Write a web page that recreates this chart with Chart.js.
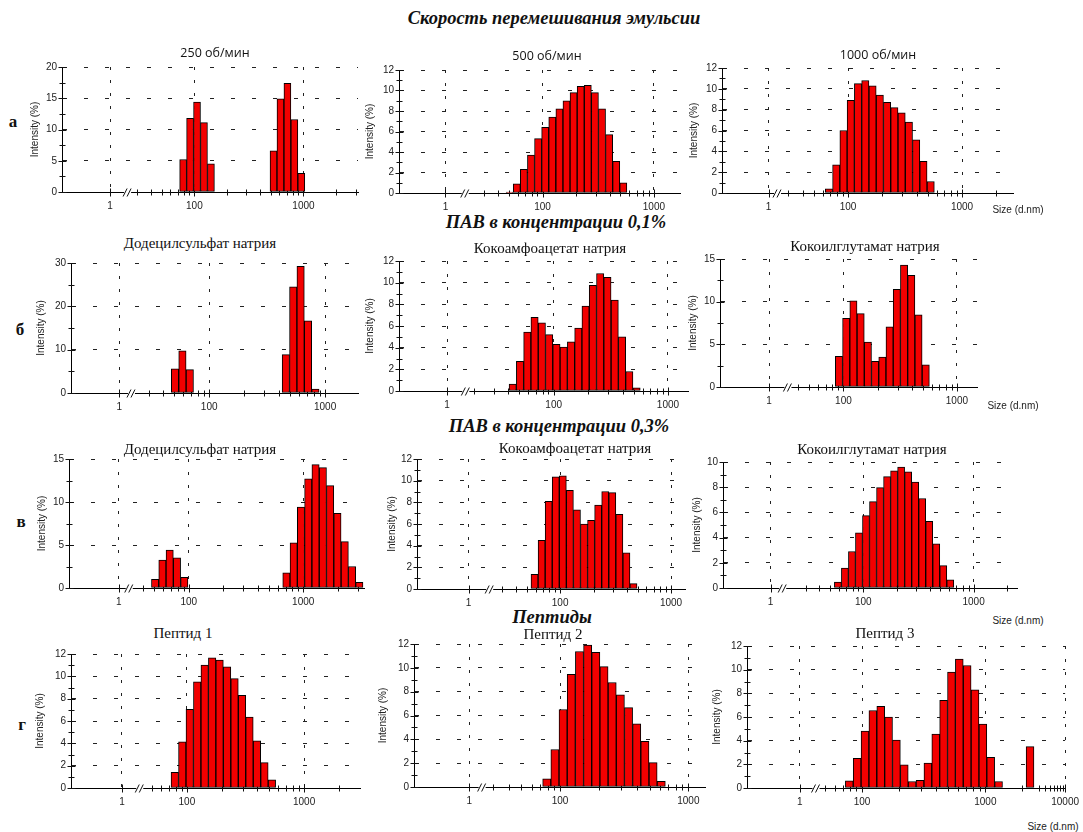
<!DOCTYPE html>
<html>
<head>
<meta charset="utf-8">
<script src="https://cdn.jsdelivr.net/npm/chart.js@4.4.1/dist/chart.umd.min.js"></script>
<style>
body { margin: 0; background: #fff; }
#page { position: relative; width: 1083px; height: 832px; overflow: hidden; background: #fff; }
canvas { position: absolute; }
.t { position: absolute; white-space: nowrap; line-height: 1; transform: translate(-50%, -50%); color: #111; }
.head { font: bold italic 18.5px 'Liberation Serif', 'Times New Roman', serif; }
.row { font: bold 17px 'Liberation Serif', 'Times New Roman', serif; }
.sans { font: 12.5px 'Open Sans', 'Liberation Sans', sans-serif; }
.serif { font: 15px 'Liberation Serif', 'Times New Roman', serif; }
.size { font: 10px 'Liberation Sans', Arial, sans-serif; color: #222; }
</style>
</head>
<body>
<div id="page"></div>
<script>
// bin centres (d.nm) and intensity (%)
const a1Size = [78.82, 91.28, 105.7, 122.4, 141.8, 531.2, 615.1, 712.4, 825.0, 955.4];
const a1Int = [5.2, 11.8, 14.4, 11.1, 4.5, 6.6, 14.9, 17.4, 11.6, 3.0];

const a2Size = [50.75, 58.77, 68.06, 78.82, 91.28, 105.7, 122.4, 141.8, 164.2, 190.1, 220.2, 255.0, 295.3, 342.0, 396.1, 458.7, 531.2];
const a2Int = [0.1, 0.9, 2.3, 3.7, 5.3, 6.4, 7.4, 8.2, 9.0, 9.8, 10.4, 10.5, 9.8, 8.2, 5.7, 3.1, 1.0];

const a3Size = [68.06, 78.82, 91.28, 105.7, 122.4, 141.8, 164.2, 190.1, 220.2, 255.0, 295.3, 342.0, 396.1, 458.7, 531.2];
const a3Int = [0.4, 2.7, 6.0, 8.9, 10.5, 10.8, 10.3, 9.4, 8.7, 8.2, 7.7, 6.8, 5.1, 3.05, 1.1];

const b1Size = [50.75, 58.77, 68.06, 458.7, 531.2, 615.1, 712.4, 825.0];
const b1Int = [5.6, 9.75, 5.4, 8.85, 24.5, 29.25, 16.65, 0.9];

const b2Size = [43.82, 50.75, 58.77, 68.06, 78.82, 91.28, 105.7, 122.4, 141.8, 164.2, 190.1, 220.2, 255.0, 295.3, 342.0, 396.1, 458.7, 531.2];
const b2Int = [0.63, 2.74, 5.43, 6.8, 6.3, 5.2, 4.3, 4.05, 4.55, 5.8, 7.85, 9.75, 10.85, 10.5, 8.4, 5.0, 1.8, 0.3];

const b3Size = [91.28, 105.7, 122.4, 141.8, 164.2, 190.1, 220.2, 255.0, 295.3, 342.0, 396.1, 458.7, 531.2];
const b3Int = [3.6, 8.05, 10.1, 8.6, 5.25, 3.0, 3.5, 7.05, 11.45, 14.3, 13.1, 8.45, 2.6];

const v1Size = [50.75, 58.77, 68.06, 78.82, 91.28, 712.4, 825.0, 955.4, 1106, 1281, 1484, 1718, 1990, 2305, 2669, 3091];
const v1Int = [1.0, 3.25, 4.4, 3.5, 1.25, 1.77, 5.25, 9.4, 12.7, 14.35, 14.0, 11.9, 8.67, 5.4, 2.5, 0.65];

const v2Size = [58.77, 68.06, 78.82, 91.28, 105.7, 122.4, 141.8, 164.2, 190.1, 220.2, 255.0, 295.3, 342.0, 396.1, 458.7];
const v2Int = [1.35, 4.5, 8.1, 10.35, 10.45, 9.1, 7.3, 6.0, 6.35, 7.75, 9.0, 8.9, 6.9, 3.35, 0.5];

const v3Size = [58.77, 68.06, 78.82, 91.28, 105.7, 122.4, 141.8, 164.2, 190.1, 220.2, 255.0, 295.3, 342.0, 396.1, 458.7, 531.2, 615.1];
const v3Int = [0.47, 1.58, 2.9, 4.37, 5.74, 6.85, 7.96, 8.84, 9.3, 9.59, 9.22, 8.4, 7.1, 5.3, 3.5, 1.78, 0.65];

const g1Size = [78.82, 91.28, 105.7, 122.4, 141.8, 164.2, 190.1, 220.2, 255.0, 295.3, 342.0, 396.1, 458.7, 531.2];
const g1Int = [1.4, 4.14, 7.05, 9.5, 11.0, 11.65, 11.45, 10.85, 9.8, 8.3, 6.35, 4.22, 2.27, 0.73];

const g2Size = [78.82, 91.28, 105.7, 122.4, 141.8, 164.2, 190.1, 220.2, 255.0, 295.3, 342.0, 396.1, 458.7, 531.2, 615.1];
const g2Int = [0.68, 3.15, 6.5, 9.45, 11.37, 11.9, 11.3, 10.1, 8.77, 7.73, 6.66, 5.3, 3.84, 2.05, 0.47];

const g3Size = [78.82, 91.28, 105.7, 122.4, 141.8, 164.2, 190.1, 220.2, 255.0, 295.3, 342.0, 396.1, 458.7, 531.2, 615.1, 712.4, 825.0, 955.4, 1106, 1281, 2305];
const g3Int = [0.6, 2.5, 4.8, 6.55, 6.9, 6.0, 4.05, 1.95, 0.55, 0.65, 2.1, 4.55, 7.4, 9.8, 10.9, 10.35, 8.3, 5.4, 2.6, 0.55, 3.5];

const xTicks = [1, 100, 1000];
const xTicksWide = [1, 100, 1000, 10000];
const minorSizes = [20, 30, 40, 50, 60, 70, 80, 90, 200, 300, 400, 500, 600, 700, 800, 900, 2000, 3000, 4000, 5000, 6000, 7000, 8000, 9000];

const headers = [
    ['Скорость перемешивания эмульсии', 554, 18],
    ['ПАВ в концентрации 0,1%', 556, 222],
    ['ПАВ в концентрации 0,3%', 559, 426],
    ['Пептиды', 552, 617]
];
const rowLabels = [['а', 13, 122], ['б', 20, 330], ['в', 21, 522], ['г', 22, 725]];

// layout of each panel: axis corners in page pixels, axis range in "decade" units
const panels = [
    {size: a1Size, val: a1Int, x0: 62, x1: 358, y0: 64, y1: 192, yMax: 20, yStep: 5, yMinor: 2.5, uMin: 0.786, uMax: 3.50, one: 1.227, brk: 1.392, intX: 35, title: '250 об/мин', tx: 215, ty: 52, font: 'sans'},
    {size: a2Size, val: a2Int, x0: 399, x1: 680, y0: 67, y1: 193, yMax: 12, yStep: 2, yMinor: 1, uMin: 0.712, uMax: 3.234, one: 1.129, brk: 1.311, intX: 370, title: '500 об/мин', tx: 547, ty: 55, font: 'sans'},
    {size: a3Size, val: a3Int, x0: 722, x1: 1013, y0: 65, y1: 193, yMax: 12, yStep: 2, yMinor: 1, uMin: 0.895, uMax: 3.447, one: 1.304, brk: 1.386, intX: 694, title: '1000 об/мин', tx: 878, ty: 54, font: 'sans', sizeLbl: [1018, 209]},
    {size: b1Size, val: b1Int, x0: 71, x1: 358, y0: 260, y1: 393, yMax: 30, yStep: 10, yMinor: 5, uMin: 0.808, uMax: 3.284, one: 1.224, brk: 1.334, intX: 41, title: 'Додецилсульфат натрия', tx: 200, ty: 243, font: 'serif'},
    {size: b2Size, val: b2Int, x0: 399, x1: 688, y0: 258, y1: 391, yMax: 12, yStep: 2, yMinor: 1, uMin: 0.647, uMax: 3.175, one: 1.067, brk: 1.236, intX: 370, title: 'Кокоамфоацетат натрия', tx: 550, ty: 248, font: 'serif'},
    {size: b3Size, val: b3Int, x0: 720, x1: 977, y0: 256, y1: 387, yMax: 15, yStep: 5, yMinor: 2.5, uMin: 0.912, uMax: 3.177, one: 1.344, brk: 1.515, intX: 693, title: 'Кокоилглутамат натрия', tx: 865, ty: 246, font: 'serif', sizeLbl: [1013, 405]},
    {size: v1Size, val: v1Int, x0: 69, x1: 364, y0: 456, y1: 588, yMax: 15, yStep: 5, yMinor: 2.5, uMin: 0.953, uMax: 3.531, one: 1.388, brk: 1.484, intX: 42, title: 'Додецилсульфат натрия', tx: 200, ty: 449, font: 'serif'},
    {size: v2Size, val: v2Int, x0: 417, x1: 685, y0: 456, y1: 589, yMax: 12, yStep: 2, yMinor: 1, uMin: 0.709, uMax: 3.126, one: 1.174, brk: 1.369, intX: 392, title: 'Кокоамфоацетат натрия', tx: 575, ty: 448, font: 'serif'},
    {size: v3Size, val: v3Int, x0: 723, x1: 1017, y0: 459, y1: 588, yMax: 10, yStep: 2, yMinor: 1, uMin: 0.727, uMax: 3.394, one: 1.158, brk: 1.273, intX: 697, title: 'Кокоилглутамат натрия', tx: 872, ty: 449, font: 'serif', sizeLbl: [1018, 620]},
    {size: g1Size, val: g1Int, x0: 71, x1: 360, y0: 651, y1: 788, yMax: 12, yStep: 2, yMinor: 1, uMin: 1.011, uMax: 3.477, one: 1.446, brk: 1.602, intX: 40, title: 'Пептид 1', tx: 183, ty: 633, font: 'serif'},
    {size: g2Size, val: g2Int, x0: 414, x1: 705, y0: 641, y1: 787, yMax: 12, yStep: 2, yMinor: 1, uMin: 0.862, uMax: 3.13, one: 1.293, brk: 1.397, intX: 383, title: 'Пептид 2', tx: 553, ty: 634, font: 'serif'},
    {size: g3Size, val: g3Int, x0: 747, x1: 1067, y0: 643, y1: 788, yMax: 12, yStep: 2, yMinor: 1, uMin: 1.067, uMax: 3.647, one: 1.496, brk: 1.631, sq: [3.40, 0.4117], ticks: xTicksWide, padR: 20, intX: 717, title: 'Пептид 3', tx: 885, ty: 633, font: 'serif', sizeLbl: [1053, 826]}
];

const RED = '#f20000';
const PAD_TOP = 8;
const X_H = 25;

Chart.defaults.font.family = "'Liberation Sans', Arial, sans-serif";
Chart.defaults.font.size = 10;
Chart.defaults.color = '#222';
Chart.defaults.animation = false;

// size (nm) -> position on the broken log axis
function toU(s, p) {
    const L = Math.log10(s);
    if (L < 0.5) return p.one + L;
    if (p.sq && L > p.sq[0]) return p.sq[0] + (L - p.sq[0]) * p.sq[1];
    return L;
}

const axisMarks = {
    id: 'axisMarks',
    beforeDatasetsDraw(chart, args, opts) {
        const p = opts.panel;
        const {ctx, chartArea: ca} = chart;
        const x = chart.scales.x, y = chart.scales.y;
        const ax = Math.round(ca.left) + 0.5;
        const ay = Math.round(ca.bottom) + 0.5;
        ctx.save();
        ctx.strokeStyle = '#111';
        ctx.lineWidth = 1;
        ctx.beginPath();
        for (let v = 0; v <= p.yMax + 1e-6; v += p.yMinor) {
            const py = Math.round(y.getPixelForValue(v)) + 0.5;
            const len = Math.abs(v / p.yStep - Math.round(v / p.yStep)) < 1e-6 ? 4 : 3;
            ctx.moveTo(ax - len, py);
            ctx.lineTo(ax + len, py);
        }
        minorSizes.forEach(s => {
            const u = toU(s, p);
            if (u < p.brk + 0.04 || u > p.uMax) return;
            const px = Math.round(x.getPixelForValue(u)) + 0.5;
            ctx.moveTo(px, ay - 3);
            ctx.lineTo(px, ay + 3);
        });
        (p.ticks || xTicks).forEach(s => {
            const px = Math.round(x.getPixelForValue(toU(s, p))) + 0.5;
            ctx.moveTo(px, ay - 4);
            ctx.lineTo(px, ay + 4);
        });
        ctx.stroke();
        // axis break
        const bx = x.getPixelForValue(p.brk);
        ctx.fillStyle = '#fff';
        ctx.fillRect(bx - 4, ay - 1.5, 7, 3);
        ctx.beginPath();
        ctx.moveTo(bx - 5, ay + 4);
        ctx.lineTo(bx - 1, ay - 4);
        ctx.moveTo(bx - 1, ay + 4);
        ctx.lineTo(bx + 3, ay - 4);
        ctx.stroke();
        ctx.restore();
    }
};

const page = document.getElementById('page');

function addText(txt, cls, x, y) {
    const d = document.createElement('div');
    d.className = 't ' + cls;
    d.textContent = txt;
    d.style.left = x + 'px';
    d.style.top = y + 'px';
    page.appendChild(d);
}

headers.forEach(h => addText(h[0], 'head', h[1], h[2]));
rowLabels.forEach(r => addText(r[0], 'row', r[1], r[2]));

panels.forEach(p => {
    const ticks = p.ticks || xTicks;
    const yW = p.x0 - p.intX + 6;
    const padR = p.padR || 6;
    const cv = document.createElement('canvas');
    cv.width = Math.round(yW + (p.x1 - p.x0) + padR);
    cv.height = Math.round(PAD_TOP + (p.y1 - p.y0) + X_H);
    cv.style.left = (p.x0 - yW) + 'px';
    cv.style.top = (p.y0 - PAD_TOP) + 'px';
    page.appendChild(cv);

    addText(p.title, p.font, p.tx, p.ty);
    if (p.sizeLbl) addText('Size (d.nm)', 'size', p.sizeLbl[0], p.sizeLbl[1]);

    new Chart(cv, {
        type: 'bar',
        data: {
            datasets: [{
                data: p.size.map((s, i) => ({x: toU(s, p), y: p.val[i]})),
                backgroundColor: RED,
                borderColor: '#000',
                borderWidth: 1,
                borderSkipped: false,
                barPercentage: 1,
                categoryPercentage: 1
            }]
        },
        options: {
            responsive: false,
            animation: false,
            events: [],
            layout: {padding: {left: 0, top: PAD_TOP, right: padR, bottom: 0}},
            plugins: {
                legend: {display: false},
                tooltip: {enabled: false},
                axisMarks: {panel: p}
            },
            scales: {
                x: {
                    type: 'linear',
                    min: p.uMin,
                    max: p.uMax,
                    offset: false,
                    grid: {offset: false, drawTicks: false, color: '#222', lineWidth: 1},
                    border: {color: '#000', width: 1, dash: [3, 10]},
                    afterBuildTicks: sc => { sc.ticks = ticks.map(s => ({value: toU(s, p)})); },
                    afterFit: sc => { sc.height = X_H; },
                    ticks: {
                        autoSkip: false,
                        maxRotation: 0,
                        padding: 8,
                        callback: (v, i) => String(ticks[i])
                    }
                },
                y: {
                    min: 0,
                    max: p.yMax,
                    ticks: {stepSize: p.yStep, padding: 5},
                    grid: {drawTicks: false, color: '#222', lineWidth: 1},
                    border: {color: '#000', width: 1, dash: [4, 17]},
                    title: {display: true, text: 'Intensity (%)', padding: 0, font: {size: 10}},
                    afterFit: sc => { sc.width = yW; }
                }
            }
        },
        plugins: [axisMarks]
    });
});
</script>
</body>
</html>
